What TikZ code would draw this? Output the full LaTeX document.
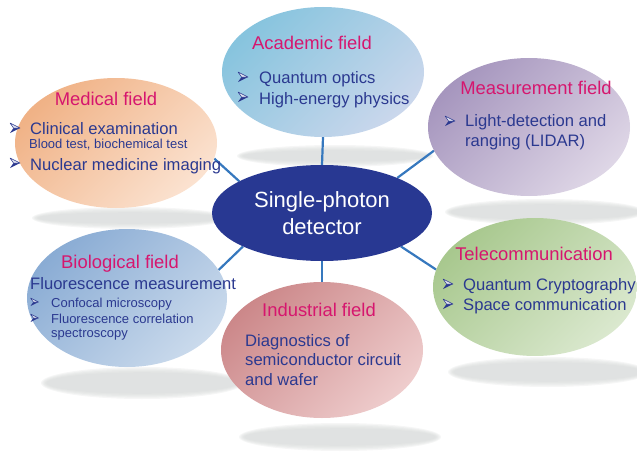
\documentclass[tikz,border=0pt]{standalone}
\usepackage{fontspec}
\setmainfont{Liberation Sans}
\usetikzlibrary{shapes.geometric,backgrounds}
\definecolor{txtblue}{RGB}{43,57,144}
\definecolor{ttlred}{RGB}{214,22,110}
\definecolor{ctrblue}{RGB}{40,56,146}
\definecolor{spoke}{RGB}{54,120,190}
\definecolor{shadowc}{RGB}{212,215,214}
\definecolor{acadA}{RGB}{135,196,222}\definecolor{acadB}{RGB}{202,215,236}
\definecolor{medA}{RGB}{240,178,134}\definecolor{medB}{RGB}{251,226,208}
\definecolor{measA}{RGB}{166,150,190}\definecolor{measB}{RGB}{222,214,230}
\definecolor{bioA}{RGB}{138,172,212}\definecolor{bioB}{RGB}{202,218,236}
\definecolor{telA}{RGB}{168,200,142}\definecolor{telB}{RGB}{218,232,206}
\definecolor{indA}{RGB}{204,136,138}\definecolor{indB}{RGB}{238,204,204}
\newcommand\mkshadow[4]{\foreach \k in {0,...,4}{\fill[shadowc, opacity=0.22] (#1,#2) ellipse [x radius={#3pt-\k*1.3pt}, y radius={#4pt-\k*1.3pt}];}}
\begin{document}
\begin{tikzpicture}[x=1pt,y=-1pt,
  blob/.style={ellipse, draw=none, inner sep=0pt},
  ttl/.style={inner sep=0pt, anchor=base, text=ttlred, font=\fontsize{18.4}{22}\selectfont},
  bod/.style={inner sep=0pt, anchor=base west, text=txtblue, font=\fontsize{16.6}{20}\selectfont},
  sml/.style={inner sep=0pt, anchor=base west, text=txtblue, font=\fontsize{13}{15}\selectfont},
  ctrtxt/.style={inner sep=0pt, anchor=base, text=white, font=\fontsize{22}{26}\selectfont},
  spokeline/.style={draw=spoke, line width=2.2pt},
  bul/.pic={
    \fill[txtblue] (3.5,0) -- (10,0) -- (0,5) -- cycle;
    \filldraw[fill=white!85!txtblue, draw=txtblue, line width=0.5pt, line join=round] (0,-5) -- (10,0) -- (3.5,0) -- cycle;
  }
]
\useasboundingbox (0,0) rectangle (637,452);

% ellipses
\node[blob, minimum width=202pt, minimum height=130pt, top color=acadA, bottom color=acadB, shading angle=45] (acad) at (323,72) {};
\node[blob, minimum width=202pt, minimum height=130pt, top color=medA, bottom color=medB, shading angle=45] (med) at (116,143) {};
\node[blob, minimum width=202pt, minimum height=138pt, top color=measA, bottom color=measB, shading angle=45] (meas) at (529,127) {};
\node[blob, minimum width=200pt, minimum height=138pt, top color=bioA, bottom color=bioB, shading angle=45] (bio) at (127,298) {};
\node[blob, minimum width=204pt, minimum height=138pt, top color=telA, bottom color=telB, shading angle=45] (tel) at (535,287) {};
\node[blob, minimum width=202pt, minimum height=136pt, top color=indA, bottom color=indB, shading angle=45] (ind) at (322,350) {};
\node[blob, minimum width=220pt, minimum height=96pt, fill=ctrblue] (ctr) at (322,213) {};

\begin{pgfonlayer}{background}
\mkshadow{335}{156}{98}{11}
\mkshadow{130}{218}{98}{11}
\mkshadow{545}{212}{100}{13}
\mkshadow{142}{383}{101}{16}
\mkshadow{548}{372}{100}{15}
\mkshadow{340}{437}{101}{14}
\draw[spokeline] (ctr.north) -- (acad.south);
\draw[spokeline] (ctr.south) -- (ind.north);
\draw[spokeline] (ctr.159) -- (med.-9);
\draw[spokeline] (ctr.25) -- (meas.-166);
\draw[spokeline] (ctr.203) -- (bio.17);
\draw[spokeline] (ctr.-23) -- (tel.170);
\end{pgfonlayer}

% central text
\node[ctrtxt] (c1) at (322,207.3) {Single-photon};
\node[ctrtxt] (c2) at (322,234) {detector};

% academic
\node[ttl] (acadt) at (312,50) {Academic field};
\pic at (238,77) {bul};
\pic at (238,97) {bul};
\node[bod] (acad1) at (259,84) {Quantum optics};
\node[bod] (acad2) at (259,104) {High-energy physics};

% medical
\node[ttl] (medt) at (106,105) {Medical field};
\pic at (10,128) {bul};
\pic at (10,163) {bul};
\node[bod] (med1) at (30,134) {Clinical examination};
\node[sml] (med2) at (29,148.5) {Blood test, biochemical test};
\node[bod] (med3) at (30,170) {Nuclear medicine imaging};

% measurement
\node[ttl] (meast) at (536,95) {Measurement field};
\pic at (445,121) {bul};
\node[bod] (meas1) at (465,126.7) {Light-detection and};
\node[bod] (meas2) at (465,146.7) {ranging (LIDAR)};

% biological
\node[ttl] (biot) at (120,268) {Biological field};
\node[bod] (bio1) at (30,289.5) {Fluorescence measurement};
\pic[scale=0.8] at (30.5,302) {bul};
\pic[scale=0.8] at (30.5,318) {bul};
\node[sml] (bio2) at (51,307) {Confocal microscopy};
\node[sml] (bio3) at (51,323.3) {Fluorescence correlation};
\node[sml] (bio4) at (51,337) {spectroscopy};

% telecommunication
\node[ttl] (telt) at (534,260.7) {Telecommunication};
\pic at (443,284) {bul};
\pic at (443,304) {bul};
\node[bod] (tel1) at (463,290) {Quantum Cryptography};
\node[bod] (tel2) at (463,310) {Space communication};

% industrial
\node[ttl] (indt) at (319,316.7) {Industrial field};
\node[bod] (ind1) at (245,346) {Diagnostics of};
\node[bod] (ind2) at (245,365.5) {semiconductor circuit};
\node[bod] (ind3) at (245,385) {and wafer};
\end{tikzpicture}
\end{document}
